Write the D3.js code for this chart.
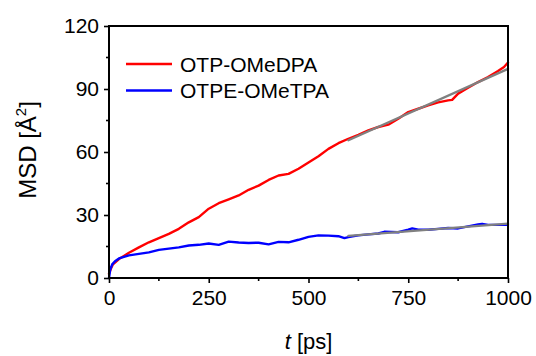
<!DOCTYPE html>
<html>
<head>
<meta charset="utf-8">
<script src="https://cdn.jsdelivr.net/npm/d3@7"></script>
<style>
  html, body { margin: 0; padding: 0; background: #fff; }
  svg { display: block; font-family: "Liberation Sans", Arial, sans-serif; }
</style>
</head>
<body>
<svg id="chart" width="536" height="356"></svg>
<script>
// Mean square displacement vs. time for two hole-transport molecules
const seriesNames = ["OTP-OMeDPA", "OTPE-OMeTPA"];
const seriesColors = ["#ff0000", "#0000ff"];

const timeRed = [0, 5, 10, 25, 50, 75, 100, 125, 150, 175, 200, 225, 250, 275, 300, 325, 350, 375, 400, 425, 450, 475, 500, 525, 550, 575, 600, 625, 650, 675, 700, 725, 750, 775, 800, 825, 850, 860, 875, 900, 925, 950, 975, 990, 1000];
const msdRed  = [2, 4.5, 6.5, 9, 12, 14.6, 17, 19, 21, 23.4, 26.5, 29, 33, 35.6, 37.4, 39.3, 42, 44, 46.7, 48.8, 49.6, 52, 55, 58, 61.5, 64.2, 66.3, 68.2, 70.3, 71.9, 73, 75.8, 79, 80.6, 82.2, 83.6, 84.6, 84.8, 87.8, 90.6, 93.3, 95.7, 98.6, 100.5, 102.6];

const timeBlue = [0, 3, 8, 15, 25, 50, 75, 100, 125, 150, 175, 200, 225, 250, 275, 300, 325, 350, 375, 400, 425, 450, 475, 500, 525, 550, 575, 590, 600, 625, 650, 675, 690, 725, 750, 760, 775, 800, 825, 850, 875, 900, 925, 935, 950, 975, 1000];
const msdBlue  = [0, 4, 6.5, 8, 9.3, 10.8, 11.5, 12.2, 13.4, 14, 14.6, 15.5, 15.8, 16.4, 15.8, 17.3, 16.9, 16.7, 16.8, 16.0, 17.2, 17.0, 18.2, 19.6, 20.3, 20.2, 19.9, 19.0, 19.5, 20.3, 20.8, 21.2, 22.0, 21.8, 23.0, 23.6, 23.0, 23.0, 23.4, 23.8, 23.6, 24.6, 25.5, 25.8, 25.3, 25.3, 25.3];

// Linear fits over the diffusive regime (600–1000 ps)
const fitTime = [600, 1000];
const fitRed  = [65.6, 99.6];
const fitBlue = [20.1, 25.9];

const xTicks = [0, 250, 500, 750, 1000];
const xMinorTicks = [125, 375, 625, 875];
const yTicks = [0, 30, 60, 90, 120];
const yMinorTicks = [15, 45, 75, 105];

const svg = d3.select("#chart");
const margin = { left: 109, top: 26, right: 28, bottom: 78 };
const W = 536, H = 356;

const x = d3.scaleLinear().domain([0, 1000]).range([margin.left, W - margin.right]);
const y = d3.scaleLinear().domain([0, 120]).range([H - margin.bottom, margin.top]);

const line = d3.line().x(d => x(d[0])).y(d => y(d[1])).curve(d3.curveLinear);

const plot = svg.append("g");

function drawSeries(ts, vs, color, width) {
  plot.append("path")
    .datum(ts.map((t, i) => [t, vs[i]]))
    .attr("d", line)
    .attr("fill", "none")
    .attr("stroke", color)
    .attr("stroke-width", width)
    .attr("stroke-linejoin", "round")
    .attr("stroke-linecap", "round");
}

drawSeries(timeRed, msdRed, seriesColors[0], 2.4);
drawSeries(timeBlue, msdBlue, seriesColors[1], 2.4);
drawSeries(fitTime, fitRed, "#808080", 2.3);
drawSeries(fitTime, fitBlue, "#808080", 2.3);

// Axes
const axisColor = "#000";
const fmt = d3.format("d");
const xAxis = d3.axisBottom(x).tickValues(xTicks).tickFormat(fmt).tickSize(5).tickSizeOuter(0).tickPadding(4);
const yAxis = d3.axisLeft(y).tickValues(yTicks).tickFormat(fmt).tickSize(5).tickSizeOuter(0).tickPadding(5);

const gx = svg.append("g").attr("transform", `translate(0,${y(0)})`).call(xAxis);
const gy = svg.append("g").attr("transform", `translate(${x(0)},0)`).call(yAxis);

[gx, gy].forEach(g => {
  g.select(".domain").remove();
  g.selectAll(".tick line").attr("stroke", axisColor).attr("stroke-width", 1.6);
  g.selectAll(".tick text").attr("fill", "#000").style("font-size", "21px");
});

gx.selectAll(".tick text").attr("dy", "0.85em");

// minor ticks
svg.append("g").selectAll("line").data(xMinorTicks).join("line")
  .attr("x1", d => x(d)).attr("x2", d => x(d))
  .attr("y1", y(0)).attr("y2", y(0) + 3)
  .attr("stroke", axisColor).attr("stroke-width", 1.6);
svg.append("g").selectAll("line").data(yMinorTicks).join("line")
  .attr("x1", x(0) - 3).attr("x2", x(0))
  .attr("y1", d => y(d)).attr("y2", d => y(d))
  .attr("stroke", axisColor).attr("stroke-width", 1.6);

// frame
svg.append("rect")
  .attr("x", x(0)).attr("y", y(120))
  .attr("width", x(1000) - x(0)).attr("height", y(0) - y(120))
  .attr("fill", "none").attr("stroke", axisColor).attr("stroke-width", 2);

// Axis titles
const xt = svg.append("text")
  .attr("x", (x(0) + x(1000)) / 2).attr("y", 349)
  .attr("text-anchor", "middle").style("font-size", "22px");
xt.append("tspan").attr("font-style", "italic").text("t");
xt.append("tspan").text(" [ps]");

const yt = svg.append("text")
  .attr("transform", `translate(36,150) rotate(-90)`)
  .attr("text-anchor", "middle").style("font-size", "24px");
yt.append("tspan").text("MSD [Å");
yt.append("tspan").attr("dy", -10).style("font-size", "15px").text("2");
yt.append("tspan").attr("dy", 10).text("]");

// Legend
const legend = svg.append("g");
seriesNames.forEach((name, i) => {
  const ly = 64 + i * 26.5;
  legend.append("line")
    .attr("x1", 126).attr("x2", 172).attr("y1", ly).attr("y2", ly)
    .attr("stroke", seriesColors[i]).attr("stroke-width", 2.4);
  legend.append("text")
    .attr("x", 180).attr("y", ly + 7.5)
    .style("font-size", "21px").attr("fill", "#000").text(name);
});
</script>
</body>
</html>
